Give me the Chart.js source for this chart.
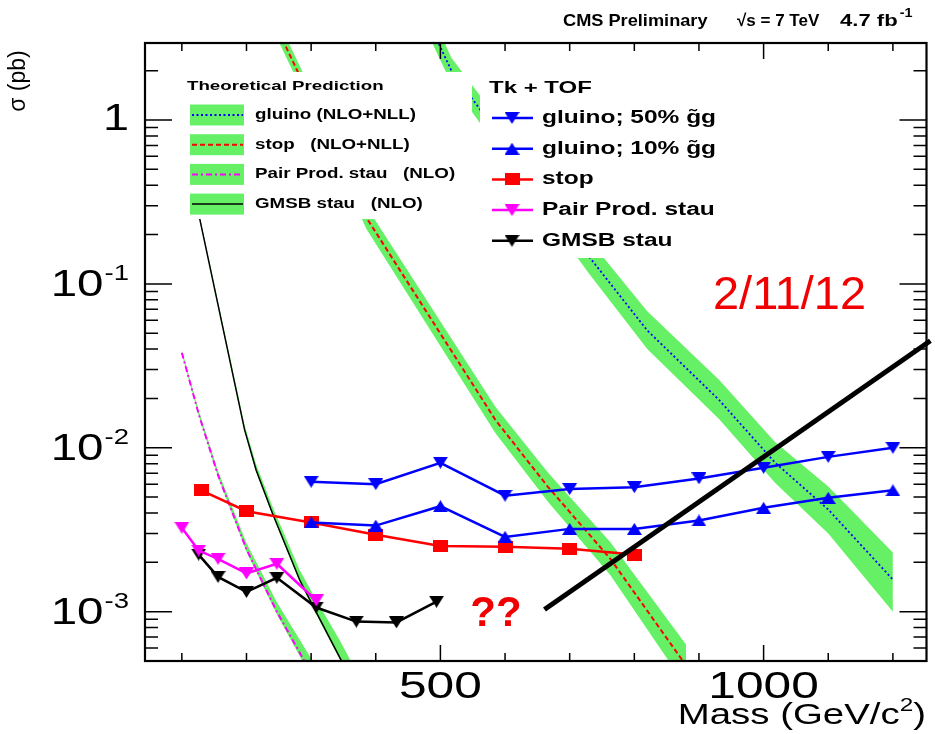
<!DOCTYPE html>
<html lang="en">
<head>
<meta charset="UTF-8">
<title>Tk + TOF cross section limits</title>
<script src="https://cdn.jsdelivr.net/npm/chart.js"></script>
<style>
  body { margin: 0; background: #fff; }
  canvas { display: block; }
</style>
</head>
<body>
<canvas id="limits" width="935" height="734"></canvas>
<script>
// observed limits, sigma in pb vs mass in GeV/c^2
const gluinoMass = [300, 400, 500, 600, 700, 800, 900, 1000, 1100, 1200];
const gluino50 = [6.2e-3, 6.0e-3, 8.1e-3, 5.1e-3, 5.6e-3, 5.75e-3, 6.5e-3, 7.55e-3, 8.8e-3, 1.0e-2];
const gluino10 = [3.5e-3, 3.35e-3, 4.4e-3, 2.86e-3, 3.2e-3, 3.2e-3, 3.6e-3, 4.3e-3, 4.95e-3, 5.5e-3];
const stopMass = [130, 200, 300, 400, 500, 600, 700, 800];
const stopLimit = [5.5e-3, 4.1e-3, 3.5e-3, 2.95e-3, 2.52e-3, 2.49e-3, 2.42e-3, 2.23e-3];
const pairStauMass = [100, 126, 156, 200, 247, 308];
const pairStauLimit = [3.25e-3, 2.36e-3, 2.1e-3, 1.71e-3, 1.96e-3, 1.17e-3];
const gmsbStauMass = [126, 156, 200, 247, 308, 370, 432, 494];
const gmsbStauLimit = [2.23e-3, 1.63e-3, 1.32e-3, 1.61e-3, 1.06e-3, 8.7e-4, 8.6e-4, 1.15e-3];

// theory cross sections: central value plus upper/lower edge of the band
const gluinoThMass = [480, 517, 728, 820, 931, 1018, 1100, 1200];
const gluinoTh = [4.1, 2.0, 0.15, 0.052, 0.0196, 8.1e-3, 4.2e-3, 1.57e-3];
const gluinoThUp = [5.0, 2.4, 0.19, 0.068, 0.026, 0.0108, 5.8e-3, 2.3e-3];
const gluinoThDown = [3.4, 1.67, 0.118, 0.040, 0.0150, 6.1e-3, 3.0e-3, 1.0e-3];

const stopThMass = [245, 278, 386, 585, 666, 763, 880];
const stopTh = [3.8, 2.02, 0.252, 0.0148, 5.8e-3, 2.1e-3, 4.7e-4];
const stopThUp = [4.35, 2.32, 0.295, 0.0178, 7.1e-3, 2.65e-3, 6.3e-4];
const stopThDown = [3.3, 1.76, 0.215, 0.0123, 4.7e-3, 1.67e-3, 3.5e-4];

const pairStauThMass = [100, 126, 156, 200, 247, 308];
const pairStauTh = [0.038, 0.0161, 0.0068, 0.0024, 0.0010, 3.7e-4];
const pairStauThUp = [0.0395, 0.0168, 0.0072, 0.00262, 0.00114, 4.6e-4];
const pairStauThDown = [0.0372, 0.0158, 0.0066, 0.00232, 0.00096, 3.5e-4];

const gmsbStauThMass = [120, 128, 197, 215, 240, 282, 308, 346, 365];
const gmsbStauTh = [0.35, 0.246, 0.0129, 7.3e-3, 4.0e-3, 1.57e-3, 9.9e-4, 5.1e-4, 3.6e-4];
const gmsbStauThUp = [0.36, 0.255, 0.0138, 7.9e-3, 4.4e-3, 1.8e-3, 1.18e-3, 6.5e-4, 4.7e-4];
const gmsbStauThDown = [0.345, 0.242, 0.0126, 7.1e-3, 3.9e-3, 1.53e-3, 9.6e-4, 4.95e-4, 3.5e-4];

// hand-drawn trend line
const noteLineMass = [661, 1258];
const noteLineValue = [1.03e-3, 0.045];

// axes
const xRange = [43, 1252];
const yRange = [5.0e-4, 2.95];
const xTickValues = [500, 1000];
const xMinorStep = 100;
const yTickValues = [1, 0.1, 0.01, 0.001];

const theoryLabels = ['gluino (NLO+NLL)', 'stop   (NLO+NLL)', 'Pair Prod. stau   (NLO)', 'GMSB stau   (NLO)'];
const limitLabels = ['gluino; 50% g\u0303g', 'gluino; 10% g\u0303g', 'stop', 'Pair Prod. stau', 'GMSB stau'];

const GREEN = '#66f066';
const BLUE = '#0000ff';
const RED = '#ff0000';
const MAGENTA = '#ff00ff';
const BLACK = '#000000';
const FONT = '"Liberation Sans", Arial, Helvetica, sans-serif';

function curve(masses, values) {
  return masses.map((m, i) => ({ x: m, y: values[i] }));
}

function markerImage(shape, color) {
  const c = document.createElement('canvas');
  c.width = 15; c.height = 12;
  const g = c.getContext('2d');
  g.fillStyle = color;
  g.beginPath();
  if (shape === 'down') { g.moveTo(0, 0); g.lineTo(15, 0); g.lineTo(7.5, 12); }
  else if (shape === 'up') { g.moveTo(7.5, 0); g.lineTo(15, 12); g.lineTo(0, 12); }
  else g.rect(0, 0, 15, 12);
  g.closePath();
  g.fill();
  return c;
}

const theoryStyles = [
  { color: BLUE, dash: [2, 2.5], width: 1.8 },
  { color: RED, dash: [5, 3], width: 2 },
  { color: MAGENTA, dash: [6, 3, 2, 3], width: 2 },
  { color: BLACK, dash: [], width: 1.5 }
];
const limitStyles = [
  { color: BLUE, marker: markerImage('down', BLUE) },
  { color: BLUE, marker: markerImage('up', BLUE) },
  { color: RED, marker: markerImage('square', RED) },
  { color: MAGENTA, marker: markerImage('down', MAGENTA) },
  { color: BLACK, marker: markerImage('down', BLACK) }
];

function band(masses, up, down) {
  return [
    { data: curve(masses, up), borderWidth: 0, pointRadius: 0, backgroundColor: GREEN, fill: '+1', order: 3 },
    { data: curve(masses, down), borderWidth: 0, pointRadius: 0, fill: false, order: 3 }
  ];
}
function theoryLine(masses, values, s) {
  return { data: curve(masses, values), borderColor: s.color, borderWidth: s.width, borderDash: s.dash,
    pointRadius: 0, fill: false, order: 2 };
}
function limitLine(masses, values, s) {
  return { data: curve(masses, values), borderColor: s.color, backgroundColor: s.color, borderWidth: 2.5,
    pointStyle: s.marker, pointRadius: 6, fill: false, order: 1 };
}

const datasets = [
  ...band(gluinoThMass, gluinoThUp, gluinoThDown),
  ...band(stopThMass, stopThUp, stopThDown),
  ...band(pairStauThMass, pairStauThUp, pairStauThDown),
  ...band(gmsbStauThMass, gmsbStauThUp, gmsbStauThDown),
  theoryLine(gluinoThMass, gluinoTh, theoryStyles[0]),
  theoryLine(stopThMass, stopTh, theoryStyles[1]),
  theoryLine(pairStauThMass, pairStauTh, theoryStyles[2]),
  theoryLine(gmsbStauThMass, gmsbStauTh, theoryStyles[3]),
  limitLine(gluinoMass, gluino50, limitStyles[0]),
  limitLine(gluinoMass, gluino10, limitStyles[1]),
  limitLine(stopMass, stopLimit, limitStyles[2]),
  limitLine(pairStauMass, pairStauLimit, limitStyles[3]),
  limitLine(gmsbStauMass, gmsbStauLimit, limitStyles[4]),
  { data: curve(noteLineMass, noteLineValue), borderColor: BLACK, borderWidth: 5, pointRadius: 0,
    fill: false, clip: false, order: 0 }
];

// text with a horizontal stretch factor, returns drawn width
function text(ctx, str, px, py, font, align, sx, color) {
  ctx.save();
  ctx.font = font;
  ctx.fillStyle = color || BLACK;
  ctx.textBaseline = 'middle';
  ctx.textAlign = align;
  const w = ctx.measureText(str).width * sx;
  ctx.translate(px, py);
  ctx.scale(sx, 1);
  ctx.fillText(str, 0, 0);
  ctx.restore();
  return w;
}

function drawLegends(ctx) {
  // theory legend
  ctx.fillStyle = '#fff';
  ctx.fillRect(176, 72, 296, 147);
  text(ctx, 'Theoretical Prediction', 187, 86, 'bold 13px ' + FONT, 'left', 1.44);
  theoryLabels.forEach((lab, i) => {
    const cy = 115 + i * 29.7;
    const s = theoryStyles[i];
    ctx.fillStyle = GREEN;
    ctx.fillRect(190, cy - 10.5, 54, 21);
    ctx.save();
    ctx.strokeStyle = s.color;
    ctx.lineWidth = s.width;
    ctx.setLineDash(s.dash);
    ctx.beginPath();
    ctx.moveTo(192, cy);
    ctx.lineTo(243, cy);
    ctx.stroke();
    ctx.restore();
    text(ctx, lab, 255, cy, 'bold 14px ' + FONT, 'left', 1.34);
  });

  // limits legend
  ctx.fillStyle = '#fff';
  ctx.fillRect(480, 72, 262, 186);
  text(ctx, 'Tk + TOF', 489, 88, 'bold 17px ' + FONT, 'left', 1.41);
  limitLabels.forEach((lab, i) => {
    const cy = 118 + i * 30.7;
    const s = limitStyles[i];
    ctx.strokeStyle = s.color;
    ctx.lineWidth = 2.5;
    ctx.beginPath();
    ctx.moveTo(492, cy);
    ctx.lineTo(533, cy);
    ctx.stroke();
    ctx.drawImage(s.marker, 512 - 7.5, cy - 6);
    text(ctx, lab, 542, cy, 'bold 18px ' + FONT, 'left', 1.36);
  });
}

function drawFrame(ctx, a, x, y) {
  ctx.strokeStyle = BLACK;
  ctx.lineWidth = 1.5;
  ctx.beginPath();
  // x ticks, bottom and top, pointing inward
  for (let m = Math.ceil(xRange[0] / xMinorStep) * xMinorStep; m <= xRange[1]; m += xMinorStep) {
    const px = x.getPixelForValue(m);
    const len = xTickValues.includes(m) ? 16 : 8;
    ctx.moveTo(px, a.bottom); ctx.lineTo(px, a.bottom - len);
    ctx.moveTo(px, a.top); ctx.lineTo(px, a.top + len);
  }
  // y ticks, left and right, decades and 2..9
  for (let k = -4; k <= 0; k++) {
    for (let j = 1; j <= 9; j++) {
      const v = j * Math.pow(10, k);
      if (v < yRange[0] || v > yRange[1]) continue;
      const py = y.getPixelForValue(v);
      const len = j === 1 ? 27 : 13;
      ctx.moveTo(a.left, py); ctx.lineTo(a.left + len, py);
      ctx.moveTo(a.right, py); ctx.lineTo(a.right - len, py);
    }
  }
  ctx.stroke();
  ctx.lineWidth = 2.2;
  ctx.strokeRect(a.left, a.top, a.right - a.left, a.bottom - a.top);

  // tick labels
  yTickValues.forEach(v => {
    const py = y.getPixelForValue(v);
    if (v === 1) {
      text(ctx, '1', 129, py, '36px ' + FONT, 'right', 1.3);
      return;
    }
    const sup = String(Math.round(Math.log10(v)));
    const w = text(ctx, sup, 129, py - 10, '22px ' + FONT, 'right', 1.25);
    text(ctx, '10', 129 - w - 1, py + 2, '36px ' + FONT, 'right', 1.32);
  });
  xTickValues.forEach(m => {
    text(ctx, String(m), x.getPixelForValue(m), 688, '36px ' + FONT, 'center', 1.38);
  });

  // axis titles
  const w1 = text(ctx, ')', 926, 716, '30px ' + FONT, 'right', 1.28);
  const w2 = text(ctx, '2', 926 - w1, 706, '19px ' + FONT, 'right', 1.28);
  text(ctx, 'Mass (GeV/c', 926 - w1 - w2, 716, '30px ' + FONT, 'right', 1.28);

  ctx.save();
  ctx.translate(19, 81);
  ctx.rotate(-Math.PI / 2);
  text(ctx, '\u03c3 (pb)', 0, 0, '23px ' + FONT, 'center', 1.0);
  ctx.restore();

  // header
  const hf = 'bold 17px ' + FONT;
  text(ctx, 'CMS Preliminary', 563, 21, hf, 'left', 1.07);
  text(ctx, '\u221as = 7 TeV', 737, 21, hf, 'left', 1.0);
  const wf = text(ctx, '4.7 fb', 840, 21, hf, 'left', 1.3);
  text(ctx, '-1', 840 + wf + 2, 14, 'bold 12px ' + FONT, 'left', 1.2);

  // notes
  text(ctx, '2/11/12', 713, 296, '46px ' + FONT, 'left', 1.02, '#f00000');
  text(ctx, '??', 496, 614, 'bold 42px ' + FONT, 'center', 1.0, '#f00000');
}

const decorations = {
  id: 'decorations',
  afterDatasetsDraw(chart) {
    const { ctx, chartArea, scales } = chart;
    drawLegends(ctx);
    drawFrame(ctx, chartArea, scales.x, scales.y);
  }
};

new Chart(document.getElementById('limits'), {
  type: 'line',
  data: { datasets },
  options: {
    responsive: false,
    devicePixelRatio: 1,
    animation: false,
    layout: { padding: { left: 145, right: 3, top: 43, bottom: 73 } },
    elements: { line: { tension: 0 } },
    scales: {
      x: { type: 'linear', min: xRange[0], max: xRange[1], display: false },
      y: { type: 'logarithmic', min: yRange[0], max: yRange[1], display: false }
    },
    plugins: { legend: { display: false }, tooltip: { enabled: false } }
  },
  plugins: [decorations]
});
</script>
</body>
</html>
